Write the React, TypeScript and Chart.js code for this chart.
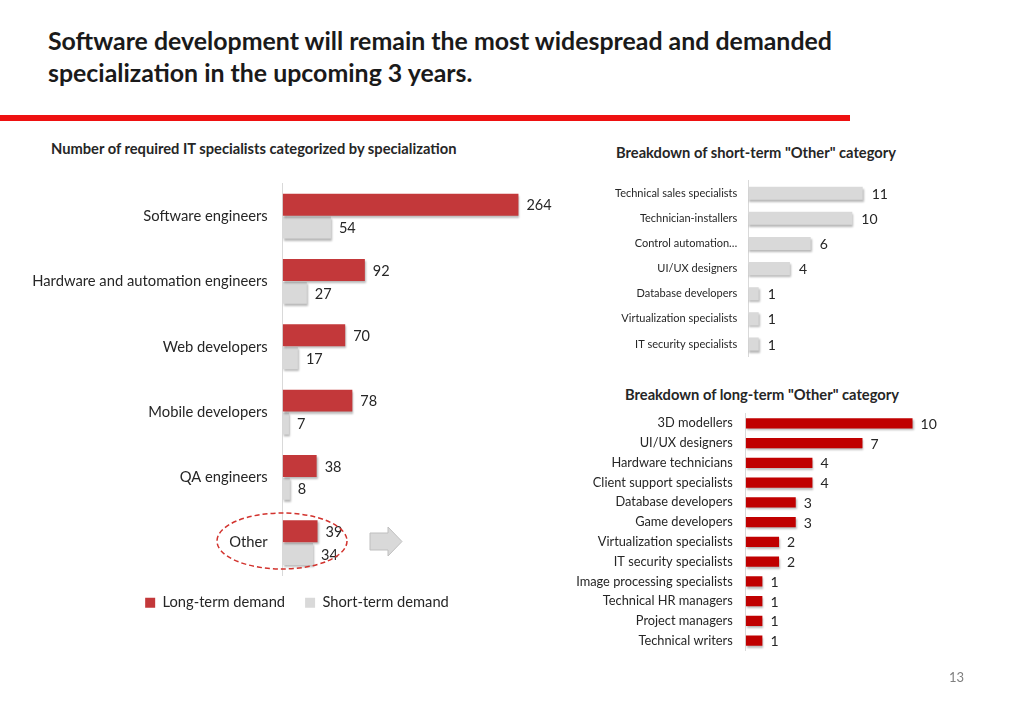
import React, { useEffect, useRef } from "react";
import { Chart, registerables } from "chart.js";

Chart.register(...registerables);

// ---------- data ----------
const mainCategories = [
  "Software engineers",
  "Hardware and automation engineers",
  "Web developers",
  "Mobile developers",
  "QA engineers",
  "Other",
];
const longTermDemand = [264, 92, 70, 78, 38, 39];
const shortTermDemand = [54, 27, 17, 7, 8, 34];

const shortOtherCategories = [
  "Technical sales specialists",
  "Technician-installers",
  "Control automation…",
  "UI/UX designers",
  "Database developers",
  "Virtualization specialists",
  "IT security specialists",
];
const shortOtherValues = [11, 10, 6, 4, 1, 1, 1];

const longOtherCategories = [
  "3D modellers",
  "UI/UX designers",
  "Hardware technicians",
  "Client support specialists",
  "Database developers",
  "Game developers",
  "Virtualization specialists",
  "IT security specialists",
  "Image processing specialists",
  "Technical HR managers",
  "Project managers",
  "Technical writers",
];
const longOtherValues = [10, 7, 4, 4, 3, 3, 2, 2, 1, 1, 1, 1];

const FONT = "Lato, 'Open Sans', sans-serif";

// ---------- plugins ----------
function valueLabels(size: number, offset: number) {
  return {
    id: "valueLabels",
    afterDatasetsDraw(chart: any) {
      const ctx = chart.ctx;
      ctx.save();
      ctx.font = `${size}px ${FONT}`;
      ctx.fillStyle = "#262626";
      ctx.textAlign = "left";
      ctx.textBaseline = "middle";
      chart.data.datasets.forEach((ds: any, i: number) => {
        const meta = chart.getDatasetMeta(i);
        meta.data.forEach((el: any, j: number) => {
          ctx.fillText(String(ds.data[j]), el.x + offset, el.y + 1);
        });
      });
      ctx.restore();
    },
  };
}

const barShadow = {
  id: "barShadow",
  beforeDatasetDraw(chart: any) {
    const ctx = chart.ctx;
    ctx.save();
    ctx.shadowColor = "rgba(0,0,0,0.28)";
    ctx.shadowOffsetX = 1;
    ctx.shadowOffsetY = 2;
    ctx.shadowBlur = 2;
  },
  afterDatasetDraw(chart: any) {
    chart.ctx.restore();
  },
};

function yAxis(width: number, fontSize: number, gap: number, color: string) {
  return {
    afterFit: (s: any) => {
      s.width = width;
    },
    grid: { display: false, drawTicks: true, tickLength: gap },
    border: { display: true, color: "#d9d9d9", width: 1 },
    ticks: {
      padding: 0,
      color,
      autoSkip: false,
      font: { family: FONT, size: fontSize },
    },
  };
}

function ChartBox(props: { left: number; top: number; width: number; height: number; build: () => any }) {
  const ref = useRef<HTMLCanvasElement | null>(null);
  useEffect(() => {
    if (!ref.current) return;
    const chart = new Chart(ref.current, props.build());
    return () => chart.destroy();
  }, []);
  return (
    <div
      style={{
        position: "absolute",
        left: props.left,
        top: props.top,
        width: props.width,
        height: props.height,
      }}
    >
      <canvas ref={ref} width={props.width} height={props.height} style={{ display: "block" }} />
    </div>
  );
}

function buildMain() {
  return {
    type: "bar",
    data: {
      labels: mainCategories,
      datasets: [
        {
          label: "Long-term demand",
          data: longTermDemand,
          backgroundColor: "#c3383a",
          categoryPercentage: 0.7,
          barPercentage: 0.96,
        },
        {
          label: "Short-term demand",
          data: shortTermDemand,
          backgroundColor: "#d9d9d9",
          categoryPercentage: 0.7,
          barPercentage: 0.96,
        },
      ],
    },
    options: {
      indexAxis: "y",
      responsive: false,
      animation: false,
      layout: { padding: { left: 0, right: 0, top: 13.5, bottom: 0 } },
      scales: {
        x: { min: 0, max: 348.6, display: false },
        y: yAxis(282.7, 14.75, 15, "#262626"),
      },
      plugins: {
        legend: {
          position: "bottom",
          labels: {
            boxWidth: 10,
            boxHeight: 10,
            padding: 20,
            color: "#262626",
            font: { family: FONT, size: 14.7 },
          },
        },
        tooltip: { enabled: false },
      },
    },
    plugins: [barShadow, valueLabels(14.5, 8)],
  };
}

function buildShortOther() {
  return {
    type: "bar",
    data: {
      labels: shortOtherCategories,
      datasets: [
        {
          label: "Short-term",
          data: shortOtherValues,
          backgroundColor: "#d9d9d9",
          categoryPercentage: 1,
          barPercentage: 0.52,
        },
      ],
    },
    options: {
      indexAxis: "y",
      responsive: false,
      animation: false,
      layout: { padding: { left: 0, right: 16.5, top: 10.6, bottom: 13.4 } },
      scales: {
        x: { min: 0, max: 13, display: false },
        y: yAxis(148.3, 11, 11, "#262626"),
      },
      plugins: { legend: { display: false }, tooltip: { enabled: false } },
    },
    plugins: [barShadow, valueLabels(14, 9)],
  };
}

function buildLongOther() {
  return {
    type: "bar",
    data: {
      labels: longOtherCategories,
      datasets: [
        {
          label: "Long-term",
          data: longOtherValues,
          backgroundColor: "#c00000",
          categoryPercentage: 1,
          barPercentage: 0.52,
        },
      ],
    },
    options: {
      indexAxis: "y",
      responsive: false,
      animation: false,
      layout: { padding: { left: 0, right: 19.1, top: 8.4, bottom: 9.4 } },
      scales: {
        x: { min: 0, max: 12, display: false },
        y: yAxis(180.7, 12.8, 13, "#262626"),
      },
      plugins: { legend: { display: false }, tooltip: { enabled: false } },
    },
    plugins: [barShadow, valueLabels(14, 8)],
  };
}

export default function App() {
  return (
    <div
      style={{
        position: "fixed",
        left: 0,
        top: 0,
        width: 1024,
        height: 709,
        background: "#ffffff",
        overflow: "hidden",
        fontFamily: FONT,
        color: "#262626",
      }}
    >
      <div
        style={{
          position: "absolute",
          left: 48,
          top: 24,
          fontSize: 24.9,
          fontWeight: 700,
          lineHeight: "32px",
          color: "#1a1a1a",
          whiteSpace: "nowrap",
        }}
      >
        Software development will remain the most widespread and demanded
        <br />
        specialization in the upcoming 3 years.
      </div>
      <div style={{ position: "absolute", left: 0, top: 115, width: 850, height: 6, background: "#ee1111" }} />

      <div style={{ position: "absolute", left: 51, top: 139, fontSize: 14.7, fontWeight: 700, whiteSpace: "nowrap" }}>
        Number of required IT specialists categorized by specialization
      </div>
      <div style={{ position: "absolute", left: 616, top: 143, fontSize: 14.7, fontWeight: 700, whiteSpace: "nowrap" }}>
        Breakdown of short-term "Other" category
      </div>
      <div style={{ position: "absolute", left: 625, top: 385, fontSize: 14.7, fontWeight: 700, whiteSpace: "nowrap" }}>
        Breakdown of long-term "Other" category
      </div>

      <ChartBox left={0} top={170} width={594} height={450} build={buildMain} />
      <ChartBox left={600} top={170} width={300} height={200} build={buildShortOther} />
      <ChartBox left={565} top={405} width={400} height={255} build={buildLongOther} />

      <svg style={{ position: "absolute", left: 0, top: 0 }} width={1024} height={709}>
        <ellipse cx={282} cy={541} rx={65} ry={28} fill="none" stroke="#d2322d" strokeWidth={1.5} strokeDasharray="5 3" />
        <polygon
          points="370,533 388,533 388,527 402,541.5 388,556 388,550 370,550"
          fill="#d9d9d9"
          stroke="#bfbfbf"
          strokeWidth={1}
        />
      </svg>

      <div style={{ position: "absolute", left: 949, top: 669, fontSize: 13, color: "#7f7f7f" }}>13</div>
    </div>
  );
}
